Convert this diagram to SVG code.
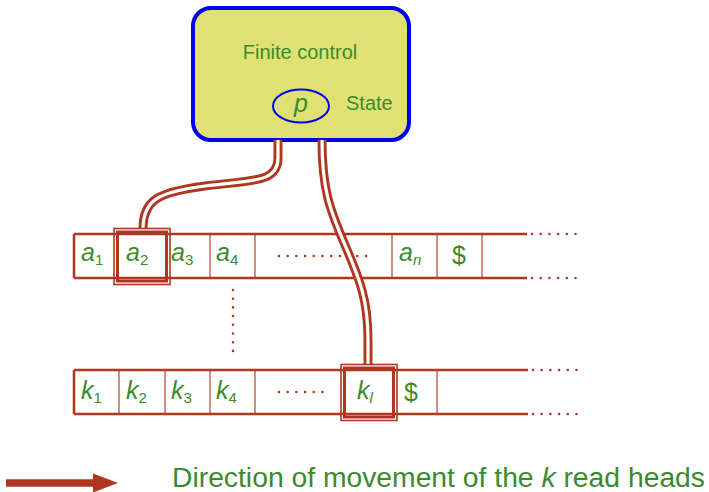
<svg xmlns="http://www.w3.org/2000/svg" width="709" height="492" viewBox="0 0 709 492">
  <style>
    .lbl { font-family: "Liberation Sans", Arial, sans-serif; fill: #3b8a2e; }
    .sym { font-family: "Liberation Sans", Arial, sans-serif; font-style: italic; fill: #3b8a2e; font-size: 25px; }
    .up { font-style: normal; }
    .sub { font-style: normal; font-size: 15px; }
    .subi { font-style: italic; font-size: 15px; }
    .rail { stroke: #b0371f; stroke-width: 2.5; fill: none; }
    .sep { stroke: #b0371f; stroke-width: 1.4; fill: none; opacity: 0.8; }
    .dots { stroke: #b0371f; stroke-width: 2.6; stroke-linecap: round; stroke-dasharray: 0 8.7; fill: none; }
    .wire { stroke: #b0371f; stroke-width: 9; fill: none; }
    .wire-core { stroke: #ffffff; stroke-width: 3.2; fill: none; }
    .head-outer { stroke: #b0371f; stroke-width: 1.6; fill: none; }
    .head-inner { stroke: #b0371f; stroke-width: 3; fill: none; }
  </style>

  <!-- finite control -->
  <g id="control">
    <rect x="193" y="8" width="216" height="132" rx="18" fill="#dfe272" stroke="#0000f0" stroke-width="4"/>
    <text class="lbl" x="300" y="59" font-size="20" text-anchor="middle">Finite control</text>
    <ellipse cx="301" cy="106" rx="28" ry="16.5" fill="none" stroke="#0000f0" stroke-width="2"/>
    <text class="sym" x="301" y="112" text-anchor="middle">p</text>
    <text class="lbl" x="346" y="110" font-size="20">State</text>
  </g>

  <!-- tape 1 -->
  <g id="tape1">
    <path class="rail" d="M74 234 H527 M74 278 H527 M74 234 V278"/>
    <path class="sep" d="M166 234 V278 M210 234 V278 M255 234 V278 M392 234 V278 M437 234 V278 M482 234 V278"/>
    <path class="dots" d="M532 234 H576 M532 278 H576"/>
    <path class="dots" d="M279 256 H366"/>
    <text class="sym" x="81" y="261">a<tspan class="sub" dy="4">1</tspan></text>
    <text class="sym" x="126" y="261">a<tspan class="sub" dy="4">2</tspan></text>
    <text class="sym" x="171" y="261">a<tspan class="sub" dy="4">3</tspan></text>
    <text class="sym" x="216" y="261">a<tspan class="sub" dy="4">4</tspan></text>
    <text class="sym" x="399" y="261">a<tspan class="subi" dy="4">n</tspan></text>
    <text class="sym up" x="452" y="264">$</text>
  </g>

  <!-- vertical ellipsis between tapes -->
  <g id="vdots">
    <path class="dots" d="M233 290 V353"/>
  </g>

  <!-- tape k -->
  <g id="tapek">
    <path class="rail" d="M74 370 H528 M74 414 H528 M74 370 V414"/>
    <path class="sep" d="M119 370 V414 M165 370 V414 M210 370 V414 M255 370 V414 M437 370 V414"/>
    <path class="dots" d="M533 370 H577 M533 414 H577"/>
    <path class="dots" d="M279 392 H327"/>
    <text class="sym" x="81" y="399">k<tspan class="sub" dy="4">1</tspan></text>
    <text class="sym" x="126" y="399">k<tspan class="sub" dy="4">2</tspan></text>
    <text class="sym" x="171" y="399">k<tspan class="sub" dy="4">3</tspan></text>
    <text class="sym" x="216" y="399">k<tspan class="sub" dy="4">4</tspan></text>
    <text class="sym" x="357" y="399">k<tspan class="subi" dy="4">l</tspan></text>
    <text class="sym up" x="404" y="401">$</text>
  </g>

  <!-- read-head wires -->
  <g id="connectors">
    <path class="wire" d="M278 140 L278 158 C278 183 252 180 205 186 C158 192 143 200 143 229"/>
    <path class="wire-core" d="M278 140 L278 158 C278 183 252 180 205 186 C158 192 143 200 143 229"/>
    <path class="wire" d="M322 140 C322 190 330 210 345 245 C360 280 368 300 368 340 L368 365"/>
    <path class="wire-core" d="M322 140 C322 190 330 210 345 245 C360 280 368 300 368 340 L368 365"/>
  </g>

  <!-- read heads -->
  <g id="head1">
    <rect class="head-outer" x="114" y="228.5" width="56" height="56"/>
    <rect class="head-inner" x="117.5" y="232" width="49" height="49"/>
  </g>
  <g id="headk">
    <rect class="head-outer" x="341" y="364.5" width="56" height="56"/>
    <rect class="head-inner" x="344.5" y="368" width="49" height="49"/>
  </g>

  <!-- legend -->
  <g id="legend">
    <path d="M6 479.2 H93 V473.5 L118 483 L93 492.5 V486.8 H6 Z" fill="#b0371f"/>
    <text class="lbl" x="172" y="487" font-size="27" textLength="533" lengthAdjust="spacingAndGlyphs">Direction of movement of the <tspan font-style="italic">k</tspan> read heads</text>
  </g>
</svg>
